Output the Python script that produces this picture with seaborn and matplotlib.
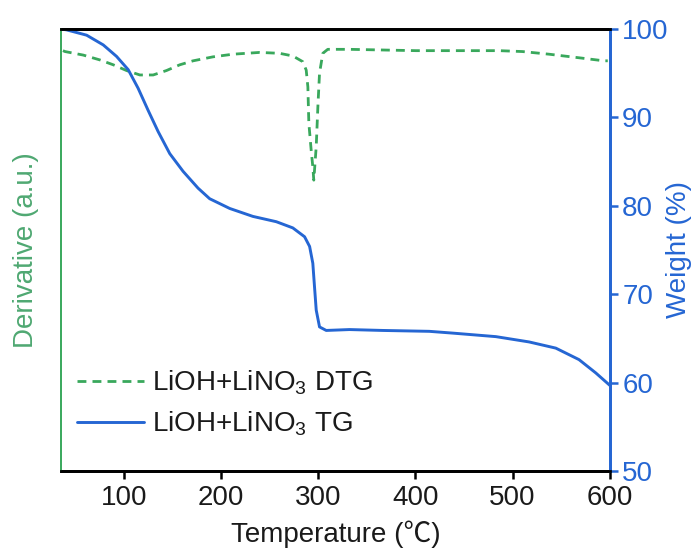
import numpy as np
import pandas as pd
import matplotlib
matplotlib.use("Agg")
import matplotlib.pyplot as plt
import seaborn as sns

sns.set_style("white")
plt.rcParams["font.family"] = ["Liberation Sans", "Noto Sans CJK SC", "DejaVu Sans"]
plt.rcParams["mathtext.default"] = "regular"

# TG curve: temperature (°C) and remaining weight (%)
tg_temp = [35, 40.8, 61.4, 78.5, 92.2, 104.2, 114.4, 124.7, 135, 147, 160.7, 176.1,
           188.1, 208.7, 232.6, 256.7, 273.7, 285.8, 291, 294.3, 296, 297.8, 301.2,
           308.1, 332, 366, 414.2, 438.2, 482.8, 517, 544.5, 568.4, 585.6, 600]
tg_weight = [100.0, 99.9, 99.3, 98.2, 96.9, 95.4, 93.3, 90.8, 88.4, 85.9, 83.9, 82.0,
             80.8, 79.7, 78.8, 78.2, 77.5, 76.5, 75.4, 73.5, 70.9, 68.2, 66.3,
             65.9, 66.0, 65.9, 65.8, 65.6, 65.2, 64.6, 63.9, 62.6, 61.1, 59.7]

# DTG curve: temperature (°C) and derivative signal (arbitrary units)
dtg_temp = [37, 39.1, 57.9, 75.1, 88.8, 102.5, 116.2, 129.9, 143.6, 157.3, 171,
            191.5, 212.1, 239.5, 260, 273.7, 284, 287.5, 289.2, 290.2, 292.6, 294.3,
            295.3, 297.8, 299.5, 301.2, 304.6, 309.7, 332, 400.5, 486, 510, 537.5,
            571.8, 594, 598]
dtg_signal = [95.1, 94.9, 94.1, 93.0, 91.9, 90.6, 89.6, 89.6, 90.6, 91.9, 92.8,
              93.7, 94.3, 94.7, 94.5, 93.9, 92.6, 90.7, 86.9, 78.7, 72.6, 68.8,
              65.8, 73.4, 82.4, 90.0, 94.5, 95.4, 95.4, 95.1, 95.1, 94.9, 94.3,
              93.4, 92.8, 92.8]

weight_ticks = [50, 60, 70, 80, 90, 100]
temp_ticks = [100, 200, 300, 400, 500, 600]

green = "#39a85c"
green_label = "#4fa872"
blue = "#2566d3"
fs = 20

tg = pd.DataFrame({"Temperature": tg_temp, "Weight": tg_weight})
dtg = pd.DataFrame({"Temperature": dtg_temp, "Derivative": dtg_signal})

fig = plt.figure(figsize=(6.97, 5.56), dpi=100)
ax = fig.add_axes([61 / 697, 1 - 471 / 556, (609.7 - 61) / 697, (471 - 29) / 556])
ax2 = ax.twinx()

sns.lineplot(data=dtg, x="Temperature", y="Derivative", ax=ax, color=green,
             linewidth=2.0, label="LiOH+LiNO$_3$ DTG", legend=False)
ax.lines[0].set_linestyle((0, (3.2, 2.2)))
sns.lineplot(data=tg, x="Temperature", y="Weight", ax=ax2, color=blue,
             linewidth=2.1, label="LiOH+LiNO$_3$ TG", legend=False)

ax.set_xlim(35, 600)
ax.set_ylim(0, 100)
ax2.set_ylim(50, 100)
ax.set_xticks(temp_ticks)
ax2.set_yticks(weight_ticks)
ax.set_yticks([])

ax.set_xlabel("Temperature (℃)", fontsize=fs, color="#1a1a1a", labelpad=7)
ax.set_ylabel("Derivative (a.u.)", fontsize=fs, color=green_label, labelpad=16)
ax2.set_ylabel("Weight (%)", fontsize=fs, color=blue, labelpad=-2)

ax.tick_params(axis="x", direction="out", length=6, width=1.8, colors="black",
               labelsize=fs, labelcolor="#1a1a1a", pad=4, bottom=True)
ax2.tick_params(axis="y", direction="out", length=6, width=1.8, colors=blue,
                labelsize=fs, labelcolor=blue, pad=3, right=True)

for a in (ax, ax2):
    a.spines["top"].set_color("black")
    a.spines["top"].set_linewidth(2.0)
    a.spines["bottom"].set_color("black")
    a.spines["bottom"].set_linewidth(2.0)
    a.spines["left"].set_color(green)
    a.spines["left"].set_linewidth(1.2)
    a.spines["right"].set_color(blue)
    a.spines["right"].set_linewidth(2.0)

handles = ax.get_lines()[:1] + ax2.get_lines()[:1]
labels = [h.get_label() for h in handles]
ax2.legend(handles, labels, loc="lower left", bbox_to_anchor=(-0.006, 0.03),
           frameon=False, fontsize=fs, handlelength=2.4, handletextpad=0.3,
           labelspacing=0.45, borderpad=0.2, labelcolor="#1a1a1a")

fig.savefig("out.png", dpi=100)
